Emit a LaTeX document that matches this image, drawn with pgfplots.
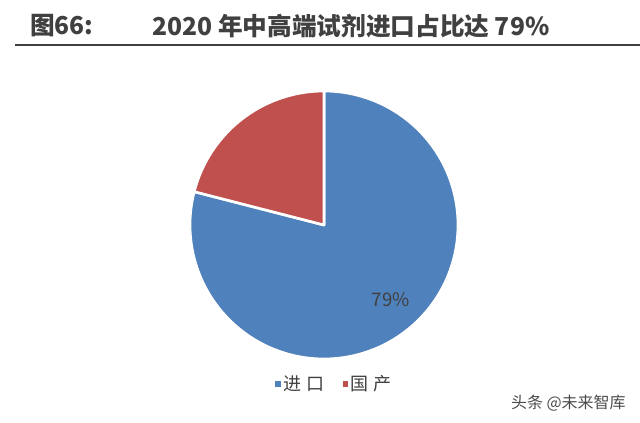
\documentclass[border=0pt]{standalone}
\usepackage{pgfplots}
\pgfplotsset{compat=1.18}
\usepgfplotslibrary{polar}
\usepackage{fontspec}
\setmainfont{Noto Sans CJK SC}
\definecolor{pieblue}{HTML}{4F81BD}
\definecolor{piered}{HTML}{C0504D}
\definecolor{txt}{HTML}{404040}
% data (percent)
\def\vimp{79}
\def\vdom{21}
\begin{document}
\begin{tikzpicture}[x=0.75pt,y=0.75pt]
\fill[white] (0,0) rectangle (640,422);
\useasboundingbox (0,0) rectangle (640,422);
\pgfmathsetmacro{\asplit}{90+3.6*\vdom}
\pgfmathsetmacro{\aend}{\asplit+3.6*\vimp}
\coordinate (pc) at (324,197);
% title
\node[anchor=west,inner sep=0pt,text=txt,font=\fontsize{18.5pt}{21pt}\selectfont\bfseries] at (30,396) {图66:};
\node[anchor=west,inner sep=0pt,text=txt,font=\fontsize{18.5pt}{21pt}\selectfont\bfseries] at (152,396) {2020 年中高端试剂进口占比达 79\%};
\draw[txt,line width=1.6pt] (15,377) -- (640,377);
% watermark
\node[anchor=east,inner sep=0pt,text=black!70,font=\fontsize{12pt}{14pt}\selectfont] at (626,19) {头条 @未来智库};
\begin{polaraxis}[
  at={(pc)}, anchor=center,
  width=201pt, height=201pt, scale only axis,
  hide axis, ymin=0, ymax=1, clip=false,
  legend columns=2,
  legend style={draw=none, fill=none, at={(0.54,-0.093)}, anchor=center,
    font=\fontsize{13.5pt}{15pt}\selectfont\addfontfeature{LetterSpace=26}\color{txt},
    /tikz/every even column/.append style={column sep=12pt}},
  legend image code/.code={\fill[#1,draw=none] (-4.5pt,-2pt) rectangle (-0.3pt,2.2pt);},
]
\addplot[fill=pieblue, draw=white, line width=2pt, line join=round, domain=\asplit:\aend, samples=300] {1} -- (axis cs:0,0) -- cycle;
\addlegendentry{进口}
\addplot[fill=piered, draw=white, line width=2pt, line join=round, domain=90:\asplit, samples=120] {1} -- (axis cs:0,0) -- cycle;
\addlegendentry{国产}
\node[text=txt,font=\fontsize{14pt}{16pt}\selectfont] at (axis cs:-48,0.745) {\vimp\%};
\end{polaraxis}
\end{tikzpicture}
\end{document}
